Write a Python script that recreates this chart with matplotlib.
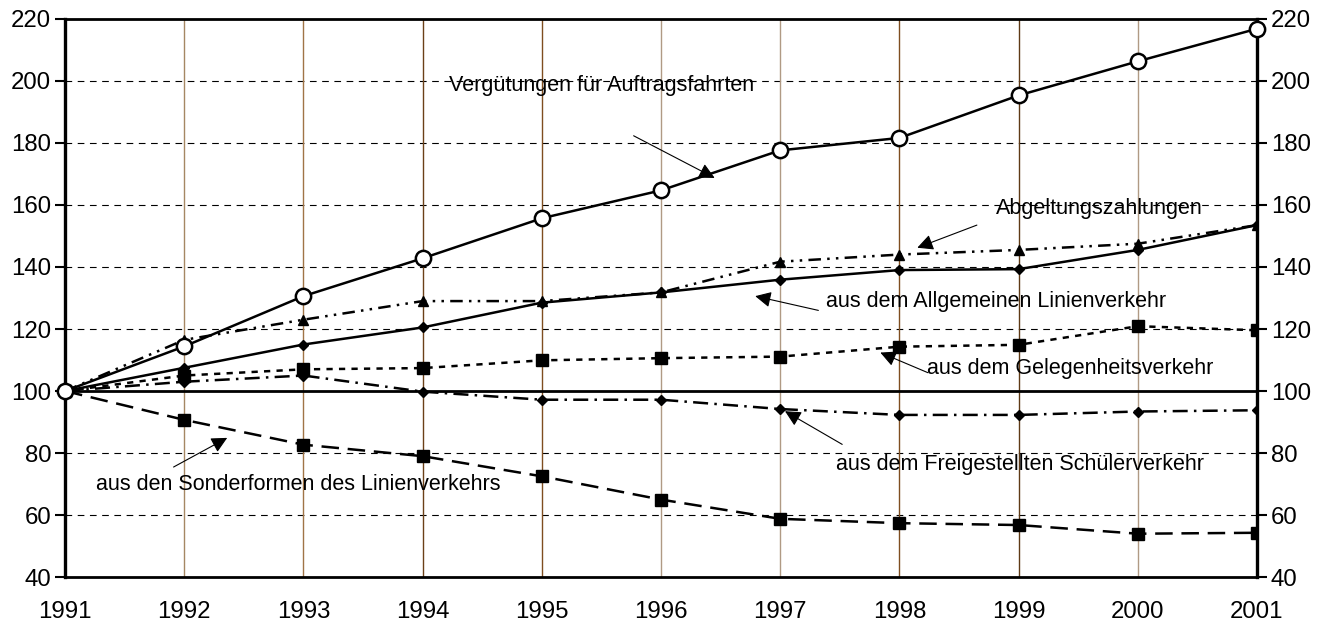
import matplotlib

matplotlib.use("Agg")
import matplotlib.pyplot as plt

plt.rcParams["font.family"] = ["Liberation Sans", "DejaVu Sans"]

years = [1991, 1992, 1993, 1994, 1995, 1996, 1997, 1998, 1999, 2000, 2001]

# index values (1991 = 100)
verguetungen = [100, 114.4, 130.6, 142.8, 155.7, 164.7, 177.6, 181.6, 195.3, 206.3, 216.8]
abgeltung = [100, 116.5, 123, 129, 129, 131.8, 141.7, 144, 145.5, 147.5, 153.5]
allgemein = [100, 107.5, 115, 120.5, 128.5, 131.8, 135.9, 139, 139.3, 145.5, 153.5]
gelegenheit = [100, 105, 107, 107.4, 109.9, 110.6, 111.1, 114.3, 114.9, 120.9, 119.6]
schueler = [100, 103, 105, 99.8, 97.2, 97.2, 94.2, 92.3, 92.3, 93.4, 93.8]
sonderformen = [100, 90.7, 82.7, 79, 72.5, 65, 58.8, 57.4, 56.8, 54, 54.3]

# vertical grid line colours, one per inner year
vgrid_colors = ["#a58763", "#a07446", "#6b4018", "#7f4e20", "#b09a84",
                "#b09a84", "#7f4e20", "#5e3a16", "#b09a84"]

# labels: (text, text_x, text_y, arrow_start, arrow_tip)
labels = [
    ("Vergütungen für Auftragsfahrten", 1995.5, 198.6, (1995.77, 182.3), (1996.45, 168.7)),
    ("Abgeltungszahlungen", 1999.68, 158.7, (1998.65, 153.5), (1998.15, 146.2)),
    ("aus dem Allgemeinen Linienverkehr", 1998.81, 129.0, (1997.32, 126.0), (1996.79, 130.6)),
    ("aus dem Gelegenheitsverkehr", 1999.43, 107.4, (1998.24, 105.9), (1997.84, 112.4)),
    ("aus dem Freigestellten Schülerverkehr", 1999.01, 76.4, (1997.52, 82.8), (1997.04, 93.5)),
    ("aus den Sonderformen des Linienverkehrs", 1992.96, 70.0, (1991.91, 75.5), (1992.36, 84.9)),
]

fig = plt.figure(figsize=(13.29, 6.28), dpi=100)
ax = fig.add_axes([0.049, 0.081, 0.8968, 0.889])

ax.set_xlim(1991, 2001)
ax.set_ylim(40, 220)

# grid
for y in range(60, 220, 20):
    if y == 100:
        continue
    ax.axhline(y, color="black", lw=0.8, dashes=(6, 5), zorder=1)
for yr, c in zip(years[1:-1], vgrid_colors):
    ax.axvline(yr, color=c, lw=1.0, zorder=1)
ax.axhline(100, color="black", lw=2.0, zorder=2)

ax.plot(years, sonderformen, color="black", lw=1.8, dashes=(7, 3.5),
        marker="s", ms=8, zorder=3)
ax.plot(years, schueler, color="black", lw=1.8, dashes=(6, 2.5, 1, 2.5),
        marker="D", ms=5, zorder=3)
ax.plot(years, gelegenheit, color="black", lw=1.8, dashes=(2.5, 2.5),
        marker="s", ms=8, zorder=3)
ax.plot(years, allgemein, color="black", lw=1.8,
        marker="D", ms=5, zorder=4)
ax.plot(years, abgeltung, color="black", lw=1.8, dashes=(5, 2.5, 1, 2.5, 1, 2.5),
        marker="^", ms=6.5, zorder=4)
ax.plot(years, verguetungen, color="black", lw=1.8, marker="o", ms=11,
        mfc="white", mec="black", mew=1.8, zorder=5, clip_on=False)

for text, tx, ty, start, tip in labels:
    ax.annotate("", xy=tip, xytext=start,
                arrowprops=dict(arrowstyle="-|>", lw=0.8, color="black",
                                mutation_scale=24, shrinkA=0, shrinkB=0),
                zorder=6)
    ax.text(tx, ty, text, ha="center", va="center", fontsize=15.5, zorder=6)

ax.set_xticks(years)
ax.set_xticklabels([str(y) for y in years])
ax.set_yticks(range(40, 221, 20))
ax.tick_params(axis="x", length=0, pad=17, labelsize=17.3)
ax.tick_params(axis="y", direction="out", length=7, width=1.5, labelsize=17.3,
               left=True, right=True, labelleft=True, labelright=True, pad=3)
for side in ["left", "right"]:
    ax.spines[side].set_linewidth(2.4)
for side in ["top", "bottom"]:
    ax.spines[side].set_linewidth(2.0)

fig.savefig("out.png", dpi=100)
